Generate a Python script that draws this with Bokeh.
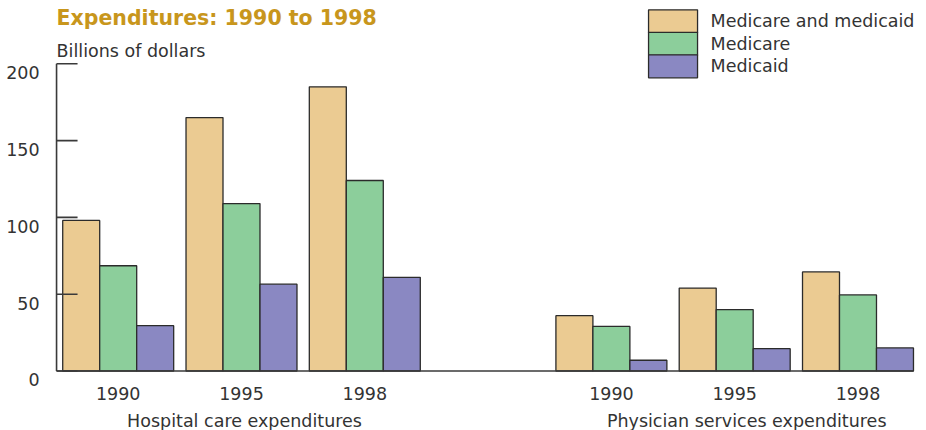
from bokeh.plotting import figure
from bokeh.models import Range1d
from bokeh.core.properties import value
from bokeh.embed import file_html
from bokeh.resources import INLINE

# ---- data ----
years = ["1990", "1995", "1998"]
groups = ["Hospital care expenditures", "Physician services expenditures"]
series = ["Medicare and medicaid", "Medicare", "Medicaid"]
hospital_total = [98, 165, 185]
hospital_medicare = [68.5, 109, 124]
hospital_medicaid = [29.5, 56.5, 61]
physician_total = [36, 54, 64.5]
physician_medicare = [29, 40, 49.5]
physician_medicaid = [7, 14.5, 15]
y_ticks = [0, 50, 100, 150, 200]
y_tick_labels = ["0", "50", "100", "150", "200"]
title_text = "Expenditures: 1990 to 1998"
y_title = "Billions of dollars"

# ---- layout ----
W, H = 926, 430
X_START, X_END = -0.9546, 6.5556
Y_START, Y_END = -38.74, 241.2
PXX = W / (X_END - X_START)
PXY = H / (Y_END - Y_START)
def dx(px):
    return px / PXX
def dy(px):
    return px / PXY

hosp_pos = [0, 1, 2]
phys_pos = [4, 5, 6]
group_pos = [1, 5]
bar_w = 0.3
axis_x = -0.5
axis_end = 6.45

colors = ["#EBCB92", "#8CCE9B", "#8A88C2"]
edge = "#2b2b2b"
txt = "#333333"
font = value("DejaVu Sans")
fs = "17.5px"

p = figure(width=W, height=H, x_range=Range1d(X_START, X_END),
           y_range=Range1d(Y_START, Y_END), output_backend="svg",
           toolbar_location=None, x_axis_location=None, y_axis_location=None,
           min_border=0, outline_line_color=None)
p.xgrid.visible = False
p.ygrid.visible = False
p.background_fill_color = "white"

values = [(hospital_total, physician_total),
          (hospital_medicare, physician_medicare),
          (hospital_medicaid, physician_medicaid)]
for i, (hv, pv) in enumerate(values):
    off = (i - 1) * bar_w
    xs = [x + off for x in hosp_pos + phys_pos]
    p.vbar(x=xs, top=hv + pv, bottom=0, width=bar_w, fill_color=colors[i],
           line_color=edge, line_width=1.3)

# axes
p.segment(x0=[axis_x, axis_x], y0=[0, 0], x1=[axis_x, axis_end],
          y1=[y_ticks[-1], 0], line_color="#3a3a3a", line_width=1.6)
p.segment(x0=[axis_x] * len(y_ticks), y0=y_ticks,
          x1=[axis_x + dx(21)] * len(y_ticks), y1=y_ticks,
          line_color="#3a3a3a", line_width=1.6)
p.text(x=[axis_x] * len(y_ticks), y=y_ticks, text=y_tick_labels,
       x_offset=-17, y_offset=9, text_align="right", text_baseline="middle",
       text_font=font, text_font_size=fs, text_color=txt)

# year labels
p.text(x=hosp_pos + phys_pos, y=[0] * 6, text=years + years, y_offset=23,
       text_align="center", text_baseline="middle", text_font=font,
       text_font_size=fs, text_color=txt)
# group labels
p.text(x=group_pos, y=[0, 0], text=groups, x_offset=[3, 12], y_offset=50,
       text_align="center", text_baseline="middle", text_font=font,
       text_font_size=fs, text_color=txt)

# y title
p.text(x=[axis_x], y=[y_ticks[-1]], text=[y_title], y_offset=-13,
       text_align="left", text_baseline="middle", text_font=font,
       text_font_size=fs, text_color=txt)
# chart title
p.text(x=[axis_x], y=[y_ticks[-1]], text=[title_text], y_offset=-46,
       text_align="left", text_baseline="alphabetic", text_font=font,
       text_font_size="20.5px", text_font_style="bold", text_color="#C8961C")

# legend
leg_x = 4.5
leg_y = [y_ticks[-1] + dy(42.5), y_ticks[-1] + dy(20), y_ticks[-1] - dy(2.5)]
p.rect(x=[leg_x] * 3, y=leg_y, width=49, height=23, width_units="screen",
       height_units="screen", fill_color=colors, line_color=edge, line_width=1.3)
p.text(x=[leg_x + dx(37.5)] * 3, y=leg_y, text=series, text_align="left",
       text_baseline="middle", text_font=font, text_font_size=fs, text_color=txt)

open("out.html", "w").write(file_html(p, INLINE))
